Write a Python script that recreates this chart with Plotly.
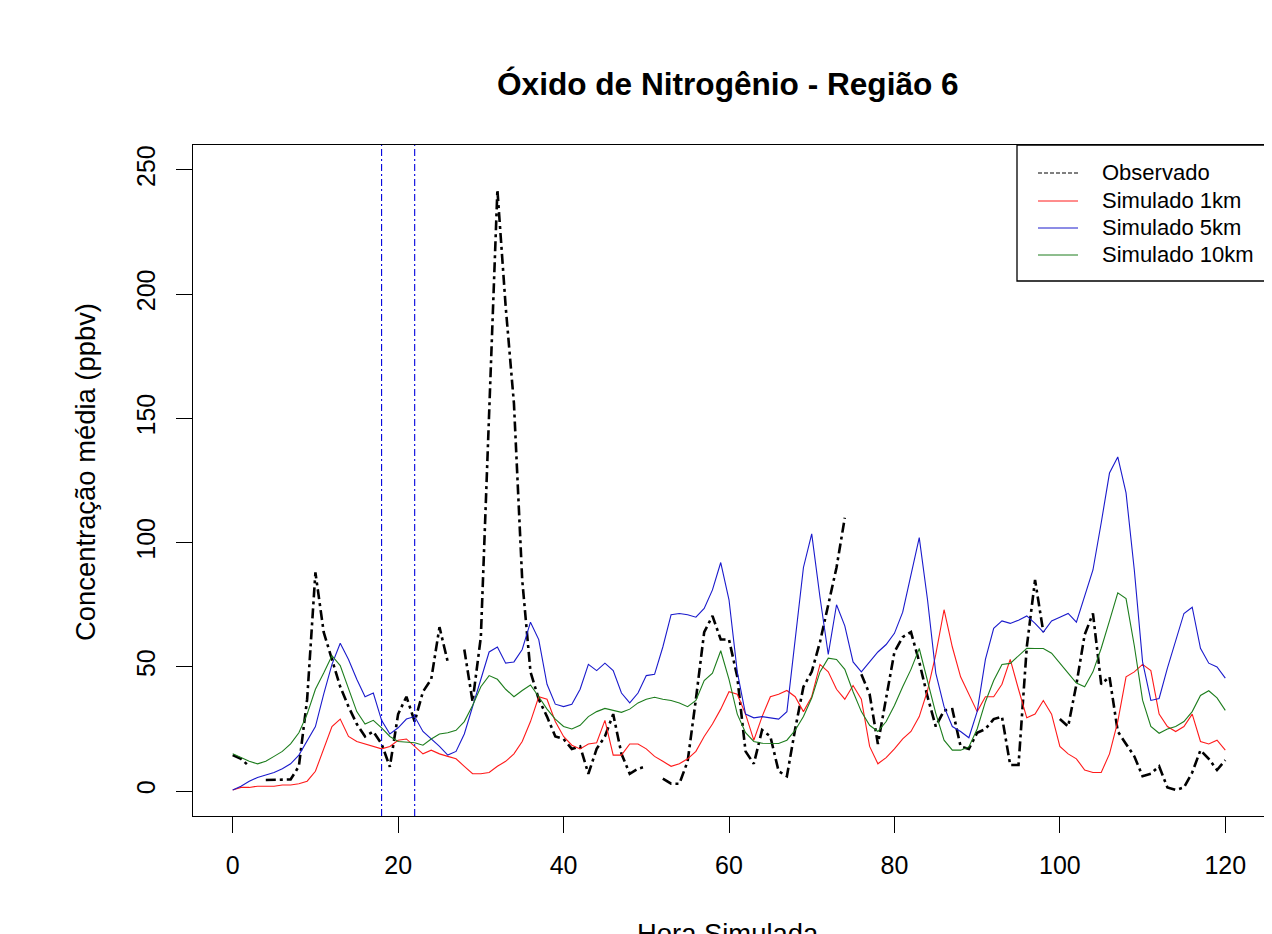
import plotly.graph_objects as go

# ---------------- data ----------------
horas = list(range(0, 121))

observado = [14.5, 13, 10, None, 4.5, 4.5, 4.5, 4.7, 10, 37,
             88, 64, 53, 42, 34, 27, 22, 24, 19, 9.8,
             31, 38, 28, 40, 45, 66, 52, None, 57, 36,
             62, 152, 242, 195, 156, 85, 48, 37, 30, 22,
             21, 17, 18, 7, 17, 22, 31, 15, 7, 9,
             10, None, 5, 3, 3, 12, 37, 64, 70.5, 61,
             61, 46, 16, 11, 24.6, 22, 8, 6, 25, 42,
             48, 60, 75, 90, 110, None, 47, 39, 19, 37,
             56, 62, 64, 52, 38, 26, 32.5, 33, 18, 17,
             23.5, 25, 29, 30, 10.5, 10.5, 58, 85, 64, None,
             29, 26, 43, 63, 71.5, 43, 46, 24, 19, 14,
             6, 7, 10, 1.5, 0.5, 1.5, 7.5, 16.5, 13, 8.5, 12.5]

sim_1km = [0.5, 1.5, 1.5, 2, 2, 2, 2.5, 2.5, 3, 4,
           8, 17, 26, 29, 22, 20, 19, 18, 17, 18,
           20.5, 21, 18, 15, 16.5, 15, 14, 13, 10, 7,
           7, 7.5, 10, 12, 15, 20, 28, 38, 37, 28,
           22, 18.5, 17, 19, 19.5, 28.5, 14.5, 14.5, 19, 19,
           17, 14, 12, 10, 11, 13, 16, 22, 27, 33,
           40, 39, 31, 20.5, 30, 38, 39, 40.5, 38, 32,
           38, 51, 48, 41, 37, 42.5, 37, 18, 11, 13.5,
           17, 21, 24, 30, 40.5, 55, 73, 58, 46, 39,
           32, 38, 38, 43, 53, 41, 29.5, 31, 36.5, 31,
           18, 15, 13, 8.5, 7.5, 7.5, 15, 28, 46, 48,
           51, 48.5, 31, 26, 24, 26, 31, 20, 19, 20.5, 16.5]

sim_5km = [0.5, 2, 4, 5.5, 6.5, 7.5, 9, 11, 14.5, 20.5,
           26, 39, 51, 59.5, 53, 45, 38, 39.5, 28.5, 23,
           25.5, 29, 30, 24, 21, 18, 14.5, 16, 23, 34,
           46, 56, 58, 51.5, 52, 57, 68, 61, 43, 35,
           34, 35, 41, 51, 48.5, 51.5, 48.5, 39.5, 35.5, 39.5,
           46.5, 47, 58, 71, 71.5, 71, 70, 73.5, 81, 92,
           77, 48, 31, 29.5, 30, 29.5, 29, 32, 62, 90,
           103.5, 78, 55, 75, 66.5, 52, 48, 52, 56, 59,
           63.5, 72, 87, 102, 77, 47.5, 34, 26, 24, 21.5,
           32, 53, 65.5, 68.5, 67.5, 68.8, 70.5, 67.5, 64, 68.5,
           70, 71.5, 68, 78.5, 89, 108, 128, 134.5, 120, 89,
           52, 36.5, 37.3, 49.5, 60.5, 71.5, 74, 57.5, 51.5, 50, 45.5]

sim_10km = [15, 13.5, 12, 11, 12, 14, 16, 19, 23.5, 31,
            41, 47.5, 54.5, 50.5, 41, 32, 27, 28.5, 25.5, 22,
            20, 19.8, 19.5, 18.5, 21, 23, 23.5, 24.5, 28, 34.5,
            42, 46.5, 45, 41, 38, 40.5, 42.7, 38, 33, 29,
            26, 25, 26.5, 30, 32, 33.3, 32.5, 31.7, 33, 35.5,
            37, 37.8, 37, 36.5, 35.5, 34, 36.5, 44.5, 47.5, 56.5,
            45, 31, 23.5, 20, 19.3, 19.2, 19.2, 20.5, 24.5, 30,
            37.5, 48, 53.5, 53, 49, 40, 32, 26.5, 24, 28,
            34.5, 42, 49, 57.4, 44.7, 31.3, 20.5, 16.5, 16.5, 17.8,
            25, 36, 44.5, 51, 51.4, 54.5, 57.5, 57.4, 57.4, 55.5,
            51.7, 47.5, 43.5, 42, 48, 57.5, 68.5, 79.8, 77.5, 58.5,
            36.6, 26, 23.3, 25, 26, 28, 32, 38.5, 40.4, 37.5, 32.5]

marcos_verticais = [18, 22]
x_ticks = [0, 20, 40, 60, 80, 100, 120]
y_ticks = [0, 50, 100, 150, 200, 250]

legenda_nomes = ["Observado", "Simulado 1km", "Simulado 5km", "Simulado 10km"]

titulo = "Óxido de Nitrogênio - Região 6"
titulo_x = "Hora Simulada"
titulo_y = "Concentração média (ppbv)"

# ---------------- styling ----------------
FONT = "Liberation Sans, Arial, sans-serif"
RED = "#ff1a1a"
BLUE = "#1a1acc"
GREEN = "#1d7d1d"
cores = ["black", RED, BLUE, GREEN]
legenda_dash = ["4px,2px", "solid", "solid", "solid"]

# The page has an 8px body margin; compensate so the plot lands where the reference is.
OFF = 8
W, H = 1272 - OFF, 934 - OFF
BOX_L, BOX_R, BOX_T, BOX_B = 193, 1265, 145, 816   # page pixels of the plot box
L = BOX_L - OFF
T = BOX_T - OFF
R = 1272 - BOX_R
B = 934 - BOX_B


def px_x(p):
    return (p - BOX_L) / (BOX_R - BOX_L)


def px_y(p):
    return (BOX_B - p) / (BOX_B - BOX_T)


fig = go.Figure()

series = [observado, sim_1km, sim_5km, sim_10km]
for nome, ys, cor in zip(legenda_nomes, series, cores):
    if nome == "Observado":
        line = dict(color=cor, width=2.6, dash="10px,4px,3px,4px")
    else:
        line = dict(color=cor, width=1.1)
    fig.add_trace(go.Scatter(x=horas, y=ys, mode="lines", name=nome, line=line,
                             connectgaps=False, showlegend=False))

for xv in marcos_verticais:
    fig.add_shape(type="line", xref="x", yref="paper", x0=xv, x1=xv, y0=0, y1=1,
                  line=dict(color="#0000dd", width=1.1, dash="7px,3px,2px,3px"))

# legend box (drawn like R's legend())
fig.add_shape(type="rect", xref="paper", yref="paper",
              x0=px_x(1017), x1=1, y0=px_y(281), y1=1,
              line=dict(color="black", width=1.3), fillcolor="white", layer="above")
rows_y = [173, 201, 228, 255]
for nome, cor, dash, ry in zip(legenda_nomes, cores, legenda_dash, rows_y):
    fig.add_shape(type="line", xref="paper", yref="paper",
                  x0=px_x(1038), x1=px_x(1078), y0=px_y(ry), y1=px_y(ry),
                  line=dict(color=cor, width=1, dash=dash), layer="above")
    fig.add_annotation(text=nome, xref="paper", yref="paper",
                       x=px_x(1100), y=px_y(ry), showarrow=False,
                       xanchor="left", yanchor="middle",
                       font=dict(family=FONT, size=22, color="black"))

axis_common = dict(showline=True, mirror=True, linecolor="black", linewidth=1.3,
                   ticks="outside", ticklen=16, tickwidth=1.3, tickcolor="black",
                   showgrid=False, zeroline=False,
                   tickfont=dict(family=FONT, size=25, color="black"))

fig.update_xaxes(range=[-4.8, 124.8], tickvals=x_ticks, ticklabelstandoff=11,
                 **axis_common)
fig.update_yaxes(range=[-10, 260], tickvals=y_ticks, tickangle=-90,
                 ticklabelstandoff=11, **axis_common)

fig.add_annotation(text="<b>" + titulo + "</b>", xref="paper", yref="paper",
                   x=px_x(728), y=px_y(84), showarrow=False,
                   xanchor="center", yanchor="middle",
                   font=dict(family=FONT, size=31.6, color="black"))
fig.add_annotation(text=titulo_y, xref="paper", yref="paper",
                   x=px_x(85), y=px_y(472), showarrow=False, textangle=-90,
                   xanchor="center", yanchor="middle",
                   font=dict(family=FONT, size=27.4, color="black"))
fig.add_annotation(text=titulo_x, xref="paper", yref="paper",
                   x=px_x(728), y=px_y(933), showarrow=False,
                   xanchor="center", yanchor="middle",
                   font=dict(family=FONT, size=27.4, color="black"))

fig.update_layout(
    width=W, height=H,
    margin=dict(l=L, r=R, t=T, b=B, pad=0),
    paper_bgcolor="white", plot_bgcolor="white",
    showlegend=False,
)

fig.write_html("out.html")
